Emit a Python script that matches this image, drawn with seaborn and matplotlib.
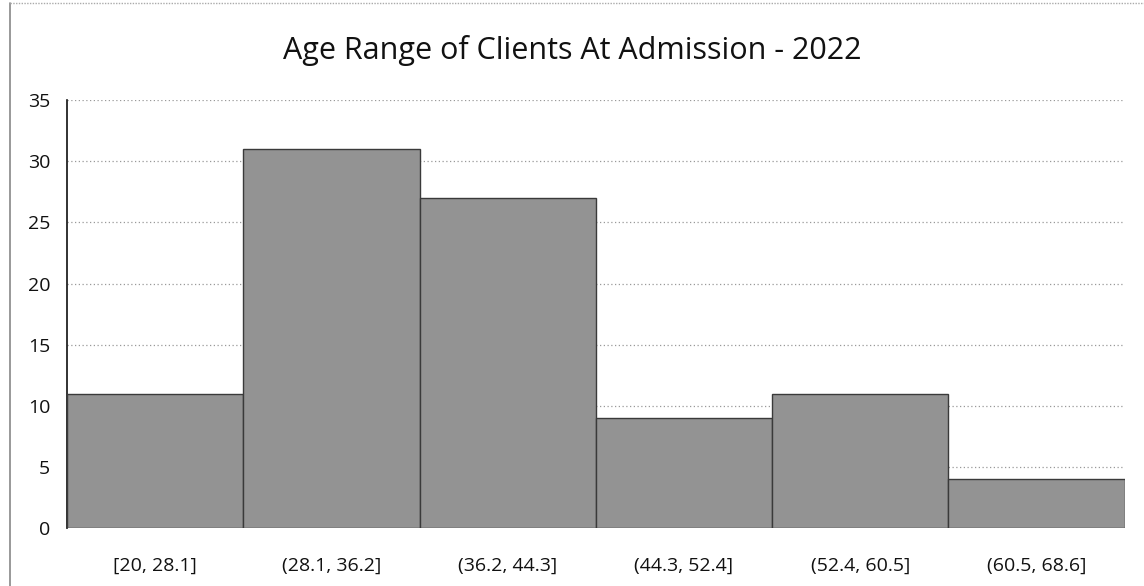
import matplotlib
matplotlib.use("Agg")
import matplotlib.pyplot as plt
import seaborn as sns
import pandas as pd

categories = ["[20, 28.1]", "(28.1, 36.2]", "(36.2, 44.3]", "(44.3, 52.4]", "(52.4, 60.5]", "(60.5, 68.6]"]
counts = [11, 31, 27, 9, 11, 4]
title = "Age Range of Clients At Admission - 2022"

sns.set_theme(style="white")
plt.rcParams['font.family'] = ['Open Sans', 'DejaVu Sans']

df = pd.DataFrame({"range": categories, "count": counts})

fig = plt.figure(figsize=(11.44, 5.86), dpi=100)
ax = fig.add_axes([0.0586, 0.099, 0.9245, 0.730])

sns.barplot(data=df, x="range", y="count", ax=ax, width=1.0, color="#939393",
            saturation=1, edgecolor="#3a3a3a", linewidth=1.0, zorder=3)

ax.set_ylim(0, 35)
ax.set_yticks(range(0, 36, 5))
ax.set_xlim(-0.5, 5.5)
ax.yaxis.grid(True, linestyle=(0, (1, 2)), color="#999999", linewidth=0.9, zorder=0)
ax.xaxis.grid(False)
ax.set_xlabel("")
ax.set_ylabel("")
for s in ["top", "right", "bottom"]:
    ax.spines[s].set_visible(False)
ax.spines["left"].set_color("#222222")
ax.spines["left"].set_linewidth(1.3)
ax.spines["left"].set_linestyle((0, (1, 1)))
ax.tick_params(axis="both", length=0, labelsize=14, colors="#111111")
ax.tick_params(axis="x", pad=21)
ax.tick_params(axis="y", pad=12)

fig.suptitle(title, x=0.5, y=0.94, fontsize=22, color="#111111")

# faint outer border of the scanned chart
fig.add_artist(plt.Line2D([0.009, 0.009], [0.0, 0.995], transform=fig.transFigure,
                          color="#888888", linewidth=1.2))
fig.add_artist(plt.Line2D([0.009, 1.0], [0.995, 0.995], transform=fig.transFigure,
                          color="#aaaaaa", linewidth=1.0, linestyle=(0, (1, 1))))

fig.savefig("out.png", dpi=100)
